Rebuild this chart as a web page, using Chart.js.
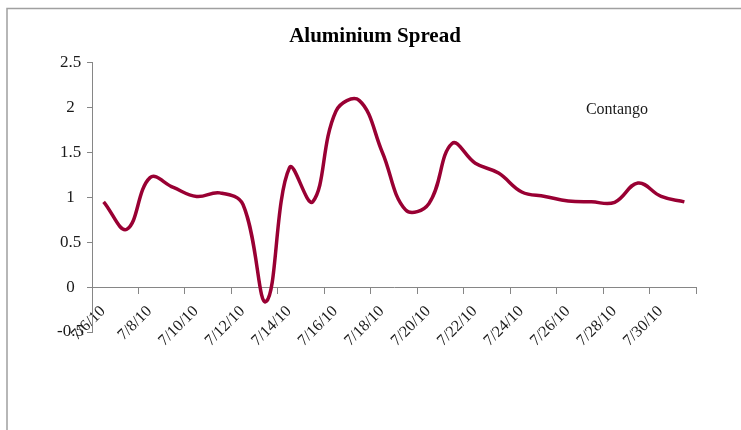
<!DOCTYPE html>
<html>
<head>
<meta charset="utf-8">
<script src="https://cdn.jsdelivr.net/npm/chart.js@4.4.1/dist/chart.umd.min.js"></script>
<style>
  html, body { margin: 0; padding: 0; background: #ffffff; }
  #wrap { width: 741px; height: 430px; position: relative; }
</style>
</head>
<body>
<div id="wrap"><canvas id="chart" width="741" height="430"></canvas></div>
<script>
// Daily trading dates, July 2010
const dates = [
  '7/6/10', '7/7/10', '7/8/10', '7/9/10', '7/10/10', '7/11/10', '7/12/10',
  '7/13/10', '7/14/10', '7/15/10', '7/16/10', '7/17/10', '7/18/10', '7/19/10',
  '7/20/10', '7/21/10', '7/22/10', '7/23/10', '7/24/10', '7/25/10', '7/26/10',
  '7/27/10', '7/28/10', '7/29/10', '7/30/10', '7/31/10'
];

// Aluminium spread for each date
const spread = [
  0.95, 0.645, 1.22, 1.11, 1.01, 1.05, 0.92,
  -0.16, 1.33, 0.95, 1.96, 2.08, 1.50, 0.86,
  0.93, 1.60, 1.38, 1.27, 1.06, 1.01, 0.96,
  0.95, 0.945, 1.16, 1.01, 0.95
];

// Labels on every second day of the date axis
const xTickLabels = [
  '7/6/10', '7/8/10', '7/10/10', '7/12/10', '7/14/10', '7/16/10', '7/18/10',
  '7/20/10', '7/22/10', '7/24/10', '7/26/10', '7/28/10', '7/30/10'
];

const yMin = -0.5, yMax = 2.5, yStep = 0.5;
const noteText = 'Contango';
const noteAt = { x: 22.6, y: 1.98 };

const serif = "'Liberation Serif', 'DejaVu Serif', serif";
const lineColor = '#990033';
const axisColor = '#868686';

// Each day occupies one unit on the axis; the value sits mid-day.
const points = spread.map((v, i) => ({ x: i + 0.5, y: v }));

// Outer frame of the chart object
const framePlugin = {
  id: 'frame',
  beforeDraw(chart) {
    const ctx = chart.ctx;
    ctx.save();
    ctx.fillStyle = '#ffffff';
    ctx.fillRect(0, 0, chart.width, chart.height);
    ctx.strokeStyle = '#a0a0a0';
    ctx.lineWidth = 1.5;
    ctx.beginPath();
    ctx.moveTo(7, chart.height);
    ctx.lineTo(7, 8.5);
    ctx.lineTo(chart.width, 8.5);
    ctx.stroke();
    ctx.restore();
  }
};

// Text note placed in data space
const notePlugin = {
  id: 'note',
  afterDatasetsDraw(chart) {
    const { ctx, scales } = chart;
    ctx.save();
    ctx.font = '16px ' + serif;
    ctx.fillStyle = '#1a1a1a';
    ctx.textAlign = 'center';
    ctx.textBaseline = 'middle';
    ctx.fillText(noteText, scales.x.getPixelForValue(noteAt.x), scales.y.getPixelForValue(noteAt.y));
    ctx.restore();
  }
};

new Chart(document.getElementById('chart'), {
  type: 'line',
  data: {
    datasets: [{
      label: 'Aluminium Spread',
      data: points,
      borderColor: lineColor,
      backgroundColor: lineColor,
      borderWidth: 3.5,
      pointRadius: 0,
      tension: 0.4,
      fill: false
    }]
  },
  options: {
    responsive: false,
    animation: false,
    devicePixelRatio: 1,
    layout: { padding: { left: 9, right: 0, top: 0, bottom: 98 } },
    plugins: {
      legend: { display: false },
      tooltip: { enabled: false },
      title: {
        display: true,
        text: 'Aluminium Spread',
        color: '#000000',
        font: { family: serif, size: 21, weight: 'bold' },
        padding: { top: 24, bottom: 13.5 }
      }
    },
    scales: {
      x: {
        type: 'linear',
        position: { y: 0 },
        min: 0,
        max: dates.length,
        border: { display: true, color: axisColor, width: 1 },
        grid: { drawOnChartArea: false, drawTicks: true, tickLength: 6, color: axisColor },
        ticks: {
          stepSize: 2,
          autoSkip: false,
          maxRotation: 45,
          minRotation: 45,
          padding: 9,
          labelOffset: 11,
          color: '#1a1a1a',
          font: { family: serif, size: 16 },
          callback: (v) => xTickLabels[v / 2] || ''
        }
      },
      y: {
        type: 'linear',
        position: 'left',
        min: yMin,
        max: yMax,
        border: { display: true, color: axisColor, width: 1 },
        grid: { drawOnChartArea: false, drawTicks: true, tickLength: 5, color: axisColor },
        ticks: {
          stepSize: yStep,
          crossAlign: 'center',
          padding: 3,
          color: '#1a1a1a',
          font: { family: serif, size: 17 },
          callback: (v) => String(v)
        },
        afterFit(scale) { scale.width = 83; }
      },
      spacer: {
        type: 'linear',
        position: 'right',
        display: true,
        border: { display: false },
        grid: { display: false },
        ticks: { display: false },
        afterFit(scale) { scale.width = 45; }
      }
    }
  },
  plugins: [framePlugin, notePlugin]
});
</script>
</body>
</html>
